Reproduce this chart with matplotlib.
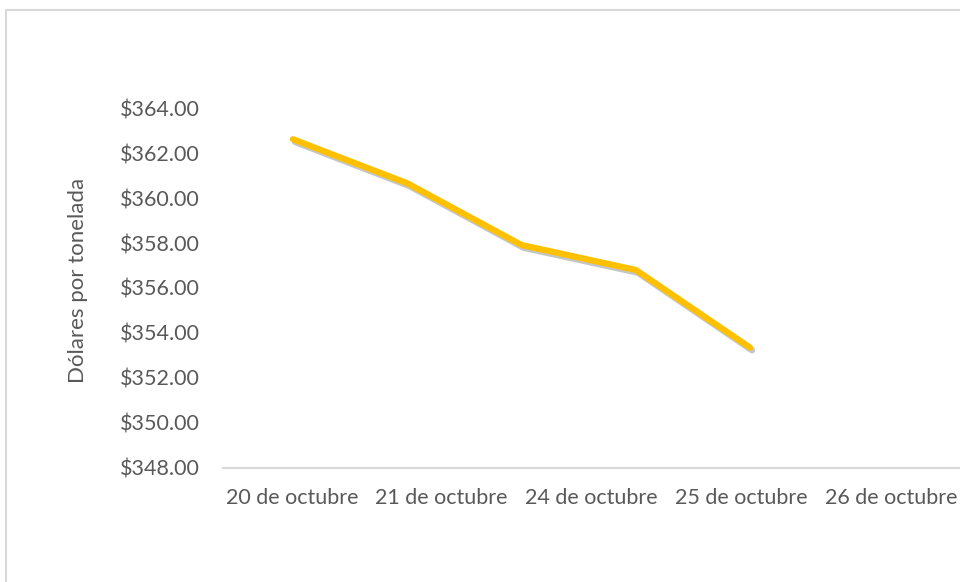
import matplotlib.pyplot as plt
import matplotlib.patheffects as pe
from matplotlib.patches import Rectangle
from matplotlib.ticker import FuncFormatter
import numpy as np

fechas = ['20 de octubre', '21 de octubre', '24 de octubre', '25 de octubre', '26 de octubre']
precios = [362.62, 360.66, 357.91, 356.80, 353.34]
y_ticks = [348, 350, 352, 354, 356, 358, 360, 362, 364]

gris = '#595959'
plt.rcParams['font.family'] = ['Lato', 'DejaVu Sans']

fig = plt.figure(figsize=(9.6, 5.82), dpi=100)

# chart frame (cropped on the right and bottom in the original)
fig.patches.append(Rectangle((6/960, -0.1), 1.1, 1.1 - 10/582,
                             transform=fig.transFigure, fill=False,
                             edgecolor='#D9D9D9', linewidth=1.5))

ax = fig.add_axes([223/960, 1 - 467.5/582, 760/960, 359.2/582])
ax.set_xlim(-69/149.7, -69/149.7 + 760/149.7)
ax.set_ylim(348, 364)
ax.set_xticks(range(len(fechas)))
ax.set_xticklabels(fechas, fontsize=15.5)
ax.set_yticks(y_ticks)
ax.yaxis.set_major_formatter(FuncFormatter(lambda v, p: f'${v:,.2f}'))
ax.tick_params(axis='both', length=0, colors=gris)
ax.tick_params(axis='y', pad=16.5, labelsize=15.5)
ax.tick_params(axis='x', pad=15)
for s in ['top', 'right', 'left']:
    ax.spines[s].set_visible(False)
ax.spines['bottom'].set_color('#D9D9D9')
ax.spines['bottom'].set_linewidth(1.5)
ax.set_ylabel('Dólares por tonelada', color=gris, fontsize=16)
ax.yaxis.set_label_coords(-0.178, 0.52)

# the line sits on its own category scale in the original
ax2 = ax.twiny()
ax2.set_xlim(-70/114.25, -70/114.25 + 760/114.25)
ax2.axis('off')
ax2.plot(np.arange(len(precios)), precios, color='#FFC000', linewidth=4.5,
         solid_capstyle='round', solid_joinstyle='round',
         path_effects=[pe.SimpleLineShadow(offset=(1.5, -2), shadow_color='gray', alpha=0.45),
                       pe.Normal()])

fig.savefig('out.png', dpi=100)
